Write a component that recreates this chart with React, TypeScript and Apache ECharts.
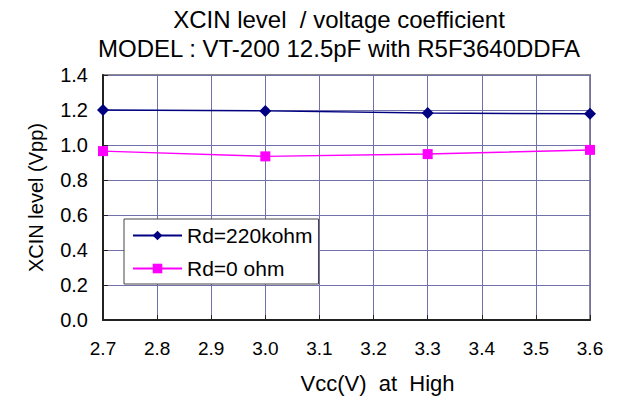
import React, { useEffect, useRef } from "react";
import * as echarts from "echarts";

const vcc = [2.7, 3.0, 3.3, 3.6];
const rd220 = [1.2, 1.195, 1.183, 1.178];
const rd0 = [0.965, 0.935, 0.948, 0.972];
const titleLines = ["XCIN level  / voltage coefficient", "MODEL : VT-200 12.5pF with R5F3640DDFA"];
const seriesNames = ["Rd=220kohm", "Rd=0 ohm"];

export default function App() {
  const ref = useRef<HTMLDivElement>(null);
  useEffect(() => {
    const chart = echarts.init(ref.current!, null, { renderer: "svg" });
    const font = "Liberation Sans, Arial, sans-serif";
    chart.setOption({
      animation: false,
      textStyle: { fontFamily: font },
      graphic: titleLines.map((t, i) => ({
        type: "text",
        x: 339,
        y: 19 + i * 29,
        style: {
          text: t,
          fontFamily: font,
          fontSize: 24,
          fill: "#000",
          align: "center",
          verticalAlign: "middle",
        },
      })),
      grid: {
        left: 103,
        right: 30,
        top: 75,
        bottom: 80,
        show: true,
        borderColor: "#8a8a8a",
        borderWidth: 2,
        backgroundColor: "#fff",
      },
      legend: {
        orient: "vertical",
        left: 124,
        top: 219,
        padding: [6, 6, 5, 8],
        itemWidth: 49,
        itemHeight: 12,
        itemGap: 12,
        borderColor: "#444",
        borderWidth: 1,
        backgroundColor: "#fff",
        textStyle: { fontFamily: font, fontSize: 21, color: "#000" },
        data: seriesNames,
      },
      xAxis: {
        type: "value",
        min: 2.7,
        max: 3.6,
        interval: 0.1,
        name: "Vcc(V)  at  High",
        nameLocation: "middle",
        nameGap: 52,
        nameTextStyle: { fontFamily: font, fontSize: 22, color: "#000", padding: [0, 0, 0, 62] },
        axisLine: { onZero: false, lineStyle: { color: "#222", width: 2 } },
        axisTick: { inside: true, length: 5, lineStyle: { color: "#222" } },
        axisLabel: {
          fontFamily: font,
          fontSize: 19,
          color: "#000",
          margin: 19,
          formatter: (v: number) => v.toFixed(1),
        },
        splitLine: { show: true, lineStyle: { color: "#7070aa", width: 1 } },
      },
      yAxis: {
        type: "value",
        min: 0,
        max: 1.4,
        interval: 0.2,
        name: "XCIN level (Vpp)",
        nameLocation: "middle",
        nameGap: 57,
        nameTextStyle: { fontFamily: font, fontSize: 20, color: "#000" },
        axisLine: { show: true, lineStyle: { color: "#222", width: 2 } },
        axisTick: { show: true, inside: true, length: 5, lineStyle: { color: "#222" } },
        axisLabel: {
          fontFamily: font,
          fontSize: 20,
          color: "#000",
          margin: 15,
          formatter: (v: number) => v.toFixed(1),
        },
        splitLine: { show: true, lineStyle: { color: "#7070aa", width: 1 } },
      },
      series: [
        {
          name: seriesNames[0],
          type: "line",
          data: vcc.map((x, i) => [x, rd220[i]]),
          symbol: "diamond",
          symbolSize: 12,
          itemStyle: { color: "#000080" },
          lineStyle: { color: "#000080", width: 1.5 },
        },
        {
          name: seriesNames[1],
          type: "line",
          data: vcc.map((x, i) => [x, rd0[i]]),
          symbol: "rect",
          symbolSize: 10,
          itemStyle: { color: "#ff00ff" },
          lineStyle: { color: "#ff00ff", width: 1.5 },
        },
      ],
    });
    return () => chart.dispose();
  }, []);
  return <div ref={ref} style={{ width: 620, height: 400, position: "absolute", left: 0, top: 0 }} />;
}
